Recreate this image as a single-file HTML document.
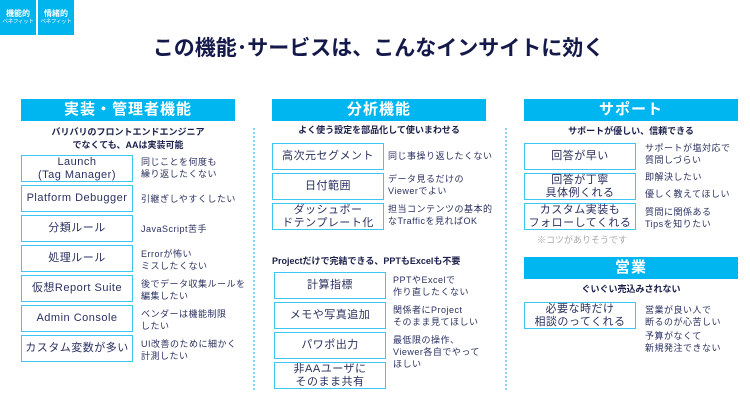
<!DOCTYPE html>
<html><head><meta charset="utf-8"><style>
*{margin:0;padding:0;box-sizing:border-box}
body{width:750px;height:402px;background:#fff;position:relative;overflow:hidden;font-family:"Liberation Sans","Noto Sans CJK JP",sans-serif;color:#1f2a5c}
.a{position:absolute}
.badge{background:#00b4ee;color:#fff;text-align:center;top:0;height:35px;width:36px;overflow:hidden}
.badge b{display:block;font-size:8px;margin-top:9px;line-height:9px}
.badge span{display:block;font-size:5.5px;line-height:9px;letter-spacing:-0.3px;white-space:nowrap}
.hd{background:#00b6f0;color:#fff;font-weight:bold;font-size:15px;text-align:center;height:22px;line-height:22px;width:214px;letter-spacing:1px}
.sub{font-size:9px;font-weight:bold;color:#1a1f4a;text-align:center;width:214px;line-height:13px}
.bx{border:1.6px solid #3cc6f2;width:112px;height:27px;display:flex;align-items:center;justify-content:center;text-align:center;font-size:11px;line-height:13px;color:#2a3060;letter-spacing:.5px}
.nt{font-size:9px;line-height:12px;color:#2a3060;letter-spacing:.5px;white-space:nowrap}
.dot{width:2px;border-left:2px dotted #7fd6f4}
</style></head><body>
<div class="a badge" style="left:0"><b>機能的</b><span>ベネフィット</span></div>
<div class="a badge" style="left:38px"><b>情緒的</b><span>ベネフィット</span></div>
<div class="a" style="left:0;width:757px;top:32px;text-align:center;font-size:21px;font-weight:bold;color:#14194a;letter-spacing:0">この機能･サービスは、こんなインサイトに効く</div>

<div class="a dot" style="left:253px;top:128px;height:262px"></div>
<div class="a dot" style="left:505px;top:128px;height:262px"></div>

<!-- col1 -->
<div class="a hd" style="left:21px;top:99px">実装・管理者機能</div>
<div class="a sub" style="left:21px;top:126px">バリバリのフロントエンドエンジニア<br>でなくても、AAは実装可能</div>
<div class="a bx" style="left:21px;top:155px">Launch<br>(Tag Manager)</div>
<div class="a bx" style="left:21px;top:185px">Platform Debugger</div>
<div class="a bx" style="left:21px;top:215px">分類ルール</div>
<div class="a bx" style="left:21px;top:245px">処理ルール</div>
<div class="a bx" style="left:21px;top:275px">仮想Report Suite</div>
<div class="a bx" style="left:21px;top:305px">Admin Console</div>
<div class="a bx" style="left:21px;top:335px">カスタム変数が多い</div>
<div class="a nt" style="left:141px;top:156px">同じことを何度も<br>繰り返したくない</div>
<div class="a nt" style="left:141px;top:193px">引継ぎしやすくしたい</div>
<div class="a nt" style="left:141px;top:223px">JavaScript苦手</div>
<div class="a nt" style="left:141px;top:248px">Errorが怖い<br>ミスしたくない</div>
<div class="a nt" style="left:141px;top:278px">後でデータ収集ルールを<br>編集したい</div>
<div class="a nt" style="left:141px;top:308px">ベンダーは機能制限<br>したい</div>
<div class="a nt" style="left:141px;top:338px">UI改善のために細かく<br>計測したい</div>

<!-- col2 -->
<div class="a hd" style="left:272px;top:99px">分析機能</div>
<div class="a sub" style="left:272px;top:124px">よく使う設定を部品化して使いまわせる</div>
<div class="a bx" style="left:272px;top:143px">高次元セグメント</div>
<div class="a bx" style="left:272px;top:173px">日付範囲</div>
<div class="a bx" style="left:272px;top:203px">ダッシュボー<br>ドテンプレート化</div>
<div class="a nt" style="left:388px;top:150px">同じ事操り返したくない</div>
<div class="a nt" style="left:388px;top:173px">データ見るだけの<br>Viewerでよい</div>
<div class="a nt" style="left:388px;top:203px">担当コンテンツの基本的<br>なTrafficを見ればOK</div>
<div class="a sub" style="left:272px;top:255px;width:230px;text-align:left">Projectだけで完結できる、PPTもExcelも不要</div>
<div class="a bx" style="left:274px;top:272px">計算指標</div>
<div class="a bx" style="left:274px;top:302px">メモや写真追加</div>
<div class="a bx" style="left:274px;top:332px">パワポ出力</div>
<div class="a bx" style="left:274px;top:362px">非AAユーザに<br>そのまま共有</div>
<div class="a nt" style="left:393px;top:274px">PPTやExcelで<br>作り直したくない</div>
<div class="a nt" style="left:393px;top:304px">関係者にProject<br>そのまま見てほしい</div>
<div class="a nt" style="left:393px;top:334px">最低限の操作、<br>Viewer各自でやって<br>ほしい</div>

<!-- col3 -->
<div class="a hd" style="left:524px;top:99px">サポート</div>
<div class="a sub" style="left:524px;top:125px">サポートが優しい、信頼できる</div>
<div class="a bx" style="left:524px;top:143px">回答が早い</div>
<div class="a bx" style="left:524px;top:173px">回答が丁寧<br>具体例くれる</div>
<div class="a bx" style="left:524px;top:203px">カスタム実装も<br>フォローしてくれる</div>
<div class="a" style="left:537px;top:233px;font-size:9px;color:#a8a8a8">※コツがありそうです</div>
<div class="a nt" style="left:645px;top:142px">サポートが塩対応で<br>質問しづらい</div>
<div class="a nt" style="left:645px;top:171px">即解決したい</div>
<div class="a nt" style="left:645px;top:188px">優しく教えてほしい</div>
<div class="a nt" style="left:645px;top:206px">質問に関係ある<br>Tipsを知りたい</div>
<div class="a hd" style="left:524px;top:257px">営業</div>
<div class="a sub" style="left:524px;top:283px">ぐいぐい売込みされない</div>
<div class="a bx" style="left:524px;top:302px">必要な時だけ<br>相談のってくれる</div>
<div class="a nt" style="left:645px;top:304px">営業が良い人で<br>断るのが心苦しい</div>
<div class="a nt" style="left:645px;top:330px">予算がなくて<br>新規発注できない</div>
</body></html>
